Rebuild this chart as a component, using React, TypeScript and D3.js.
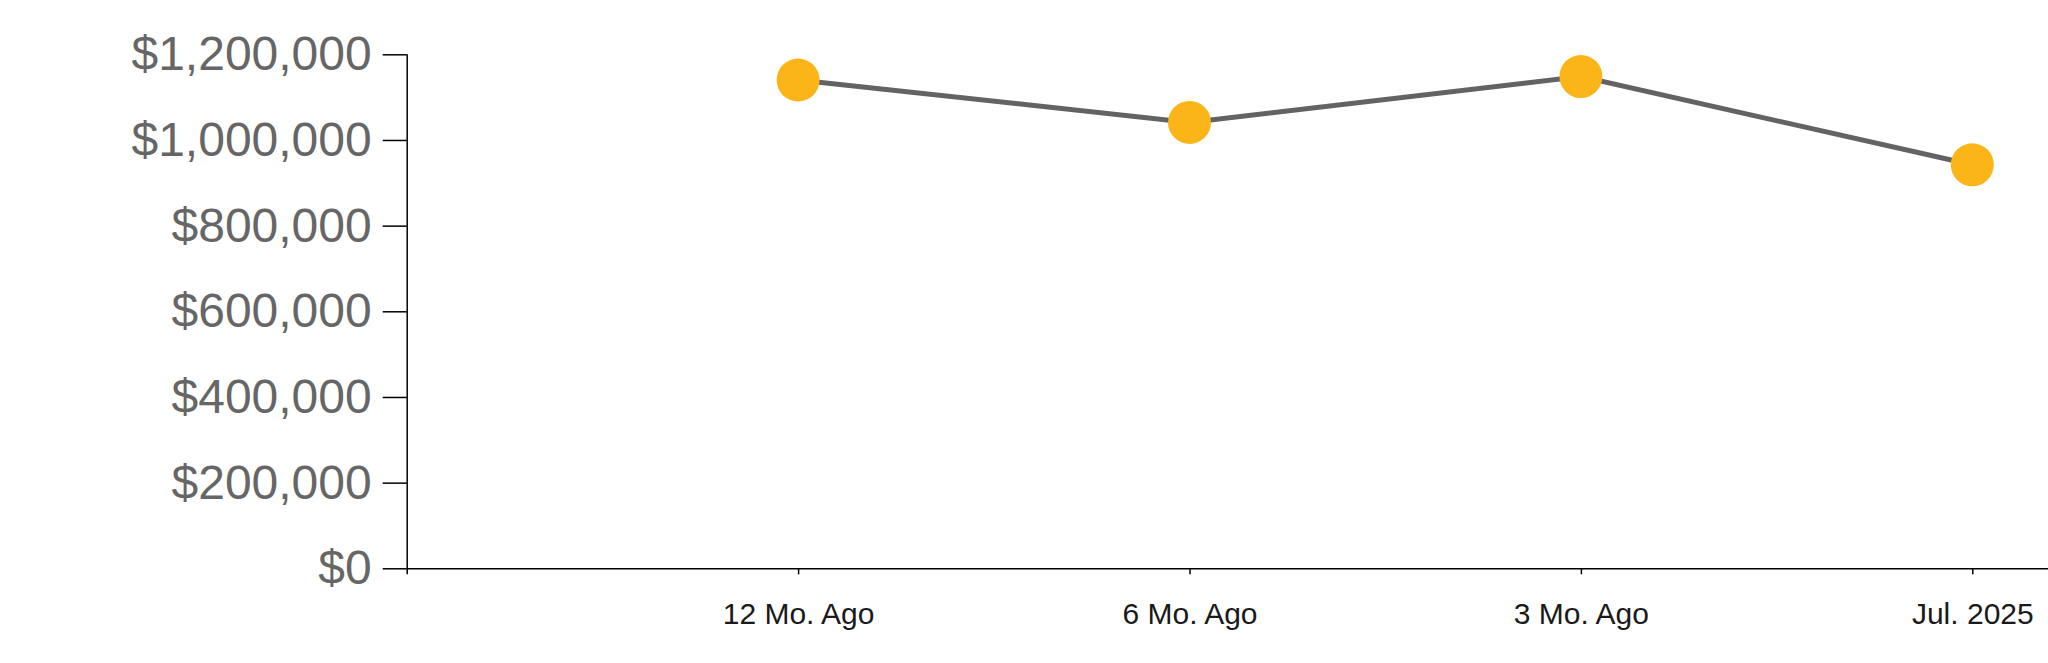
import React, { useEffect, useRef } from "react";
import * as d3 from "d3";

const categories: string[] = ["", "12 Mo. Ago", "6 Mo. Ago", "3 Mo. Ago", "Jul. 2025"];
const pointCategories: string[] = ["12 Mo. Ago", "6 Mo. Ago", "3 Mo. Ago", "Jul. 2025"];
const values: number[] = [1140000, 1041000, 1148000, 942000];
const yTicks: number[] = [0, 200000, 400000, 600000, 800000, 1000000, 1200000];

const WIDTH = 2048;
const HEIGHT = 663;
const FONT = "'Liberation Sans', Arial, Helvetica, sans-serif";

export default function App() {
  const ref = useRef<SVGSVGElement | null>(null);

  useEffect(() => {
    if (!ref.current) return;
    const svg = d3.select(ref.current);
    svg.selectAll("*").remove();

    const x0 = 406.7;
    const y0 = 568.3;
    const yTop = 54.3;

    const x = d3.scalePoint<string>().domain(categories).range([x0, 1972.3]);
    const y = d3.scaleLinear().domain([0, 1200000]).range([y0, yTop]);

    // Y axis
    const yAxis = d3
      .axisLeft(y)
      .tickValues(yTicks)
      .tickSize(24)
      .tickPadding(11)
      .tickFormat((d) => "$" + d3.format(",")(d as number));
    const gy = svg.append("g").attr("transform", `translate(${x0},0)`).call(yAxis);
    gy.select(".domain").attr("stroke", "#000").attr("stroke-width", 1.5).attr("d", `M0.5,${yTop}V${y0}`);
    gy.selectAll(".tick line").attr("stroke", "#000").attr("stroke-width", 1.5);
    gy.selectAll(".tick text")
      .attr("fill", "#666666")
      .attr("font-size", 48)
      .attr("font-family", FONT)
      .attr("dy", "0.32em");

    // X axis
    const xAxis = d3.axisBottom(x).tickSize(6).tickPadding(28).tickSizeOuter(0);
    const gx = svg.append("g").attr("transform", `translate(0,${y0})`).call(xAxis);
    gx.select(".domain").attr("stroke", "#000").attr("stroke-width", 1.5).attr("d", `M${x0},0.5H${WIDTH}`);
    gx.selectAll(".tick line").attr("stroke", "#000").attr("stroke-width", 1.5);
    gx.selectAll(".tick text")
      .attr("fill", "#1a1a1a")
      .attr("font-size", 30)
      .attr("font-family", FONT);

    // Line
    const data = pointCategories.map((c, i) => ({ c, v: values[i] }));
    const line = d3
      .line<{ c: string; v: number }>()
      .x((d) => x(d.c) as number)
      .y((d) => y(d.v));
    svg
      .append("path")
      .datum(data)
      .attr("d", line)
      .attr("fill", "none")
      .attr("stroke", "#636363")
      .attr("stroke-width", 5);

    svg
      .append("g")
      .selectAll("circle")
      .data(data)
      .join("circle")
      .attr("cx", (d) => x(d.c) as number)
      .attr("cy", (d) => y(d.v))
      .attr("r", 21.5)
      .attr("fill", "#FBB519");
  }, []);

  return (
    <svg
      ref={ref}
      width={WIDTH}
      height={HEIGHT}
      style={{ position: "absolute", left: 0, top: 0, background: "#fff" }}
    />
  );
}
